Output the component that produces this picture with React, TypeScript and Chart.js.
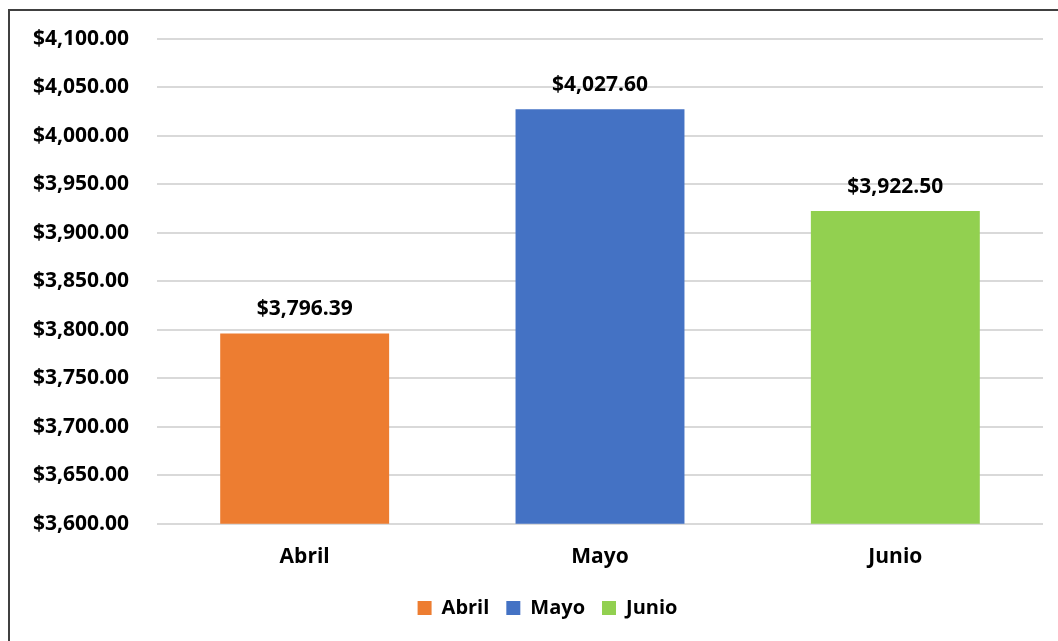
import React, { useEffect, useRef } from "react";
import { Chart, registerables } from "chart.js";

Chart.register(...registerables);

const categories = ["Abril", "Mayo", "Junio"];
const values = [3796.39, 4027.6, 3922.5];
const colors = ["#ED7D31", "#4472C4", "#92D050"];
const yMin = 3600;
const yMax = 4100;
const yStep = 50;

const FONT = "'Open Sans', sans-serif";
const FS = 21;

const fmt = (v: number) =>
  "$" + v.toLocaleString("en-US", { minimumFractionDigits: 2, maximumFractionDigits: 2 });

const labelPlugin = {
  id: "barLabels",
  afterLayout(chart: any) {
    if (chart.legend) {
      chart.legend.left += 21;
      chart.legend.right += 21;
    }
  },
  afterDatasetsDraw(chart: any) {
    const ctx = chart.ctx;
    const meta = chart.getDatasetMeta(0);
    ctx.save();
    ctx.font = `bold ${FS}px ${FONT}`;
    ctx.fillStyle = "#000";
    ctx.textAlign = "center";
    ctx.textBaseline = "middle";
    meta.data.forEach((bar: any, i: number) => {
      ctx.fillText(fmt(values[i]), bar.x, bar.y - 24);
    });
    ctx.restore();
  },
};

export default function App() {
  const ref = useRef<HTMLCanvasElement | null>(null);
  useEffect(() => {
    if (!ref.current) return;
    const chart = new Chart(ref.current, {
      type: "bar",
      data: {
        labels: categories,
        datasets: [
          {
            label: "Total",
            data: values,
            backgroundColor: colors,
            borderWidth: 0,
            categoryPercentage: 1,
            barPercentage: 0.572,
          },
        ],
      },
      plugins: [labelPlugin],
      options: {
        animation: false,
        responsive: false,
        maintainAspectRatio: false,
        layout: { padding: { top: 28, right: 15, left: 0, bottom: 13 } },
        plugins: {
          tooltip: { enabled: false },
          legend: {
            position: "bottom",
            labels: {
              boxWidth: 14,
              boxHeight: 14,
              padding: 17,
              color: "#000",
              font: { family: FONT, size: 20, weight: "bold" },
              generateLabels: () =>
                categories.map((c, i) => ({
                  text: c,
                  fillStyle: colors[i],
                  strokeStyle: colors[i],
                  lineWidth: 0,
                  hidden: false,
                  index: i,
                  datasetIndex: 0,
                })),
            },
          },
        },
        scales: {
          x: {
            grid: { display: false, drawTicks: false },
            border: { display: false },
            afterFit: (s: any) => {
              s.height -= 10;
            },
            ticks: {
              color: "#000",
              padding: 21,
              font: { family: FONT, size: FS, weight: "bold" },
            },
          },
          y: {
            min: yMin,
            max: yMax,
            grid: { color: "#D9D9D9", lineWidth: 2, drawTicks: false },
            border: { display: false },
            afterFit: (s: any) => {
              s.width = 147;
              s.paddingTop = 0;
              s.paddingBottom = 0;
            },
            ticks: {
              stepSize: yStep,
              color: "#000",
              padding: 28,
              font: { family: FONT, size: FS, weight: "bold" },
              callback: (v: any) => fmt(Number(v)),
            },
          },
        },
      },
    });
    return () => chart.destroy();
  }, []);
  return (
    <div
      style={{
        position: "fixed",
        left: 0,
        top: 0,
        width: 1058,
        height: 641,
        overflow: "hidden",
        background: "#fff",
      }}
    >
      <div
        style={{
          position: "absolute",
          left: 8,
          top: 9,
          width: 1100,
          height: 700,
          border: "2px solid #404040",
          boxSizing: "border-box",
        }}
      >
        <canvas ref={ref} width={1048} height={630} style={{ display: "block" }} />
      </div>
    </div>
  );
}
